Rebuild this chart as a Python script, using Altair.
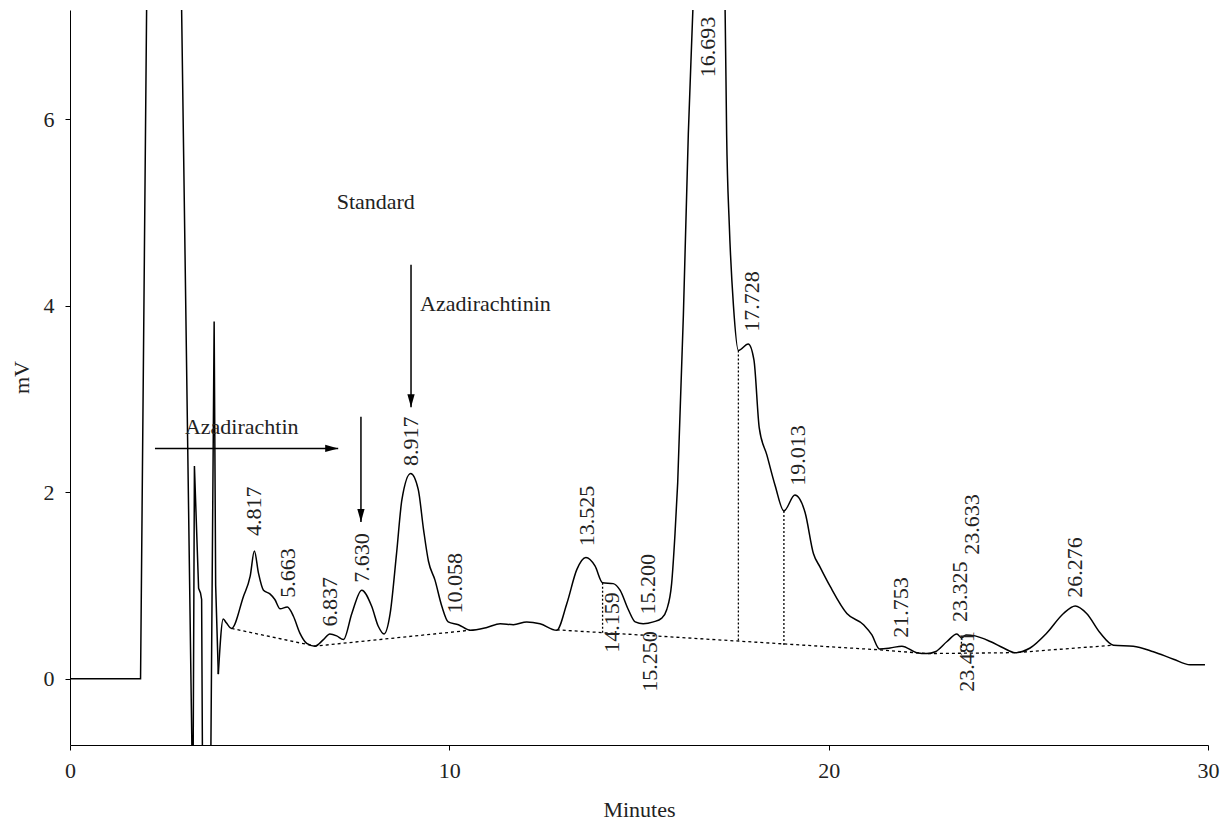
import altair as alt
import pandas as pd

FONT = "Liberation Serif"

# ---- chromatogram trace (minutes, mV) ----
# steep solvent-front section (drawn with straight segments)
sharp_t = [0, 1.86, 2.06, 2.88, 3.24, 3.28, 3.39, 3.44, 3.47, 3.50, 3.70, 3.80, 3.84, 3.91]
sharp_v = [0, 0, 9.0, 9.0, -1.5, 2.28, 0.97, 0.92, 0.85, -1.5, -1.5, 3.83, 1.0, 0.05]

# smooth section
smooth_t = [3.91, 4.04, 4.12, 4.26, 4.57, 4.75, 4.86, 4.97, 5.10, 5.27, 5.40, 5.54, 5.73, 5.89,
            6.06, 6.24, 6.46, 6.68, 6.85, 7.03, 7.21, 7.43, 7.69, 7.95, 8.13, 8.28, 8.44, 8.61,
            8.75, 8.98, 9.18, 9.32, 9.45, 9.62, 9.80, 9.97, 10.24, 10.55, 10.99, 11.34, 11.69,
            12.04, 12.39, 12.83, 13.10, 13.36, 13.60, 13.84, 14.04, 14.32, 14.50, 14.72, 14.90,
            15.11, 15.38, 15.60, 15.73, 15.86, 15.95, 16.02, 16.17, 16.30, 16.42, 16.55, 16.69,
            16.95, 17.15, 17.27, 17.31, 17.38, 17.49, 17.62, 17.88, 18.03, 18.17, 18.37, 18.59,
            18.82, 19.11, 19.38, 19.60, 19.77, 20.04, 20.48, 20.92, 21.14, 21.34, 21.62, 21.93,
            22.32, 22.59, 22.81, 23.12, 23.38, 23.50, 23.62, 23.86, 24.26, 24.61, 24.91, 25.31,
            25.75, 26.19, 26.50, 26.80, 27.16, 27.51, 28.03, 28.56, 29.09, 29.53, 29.92]
smooth_v = [0.05, 0.64, 0.60, 0.54, 0.88, 1.10, 1.37, 1.13, 0.95, 0.91, 0.85, 0.75, 0.77, 0.67,
            0.49, 0.38, 0.35, 0.42, 0.48, 0.46, 0.42, 0.70, 0.95, 0.78, 0.56, 0.48, 0.70, 1.35,
            1.92, 2.20, 2.03, 1.60, 1.26, 1.06, 0.78, 0.61, 0.58, 0.52, 0.55, 0.59, 0.58,
            0.61, 0.59, 0.52, 0.81, 1.17, 1.30, 1.21, 1.03, 1.02, 0.95, 0.74, 0.61,
            0.59, 0.61, 0.65, 0.74, 1.02, 1.56, 2.10, 3.90, 5.84, 7.17, 8.80, 9.60,
            9.40, 8.40, 7.17, 5.84, 4.87, 4.00, 3.52, 3.59, 3.42, 2.69, 2.40, 2.07,
            1.80, 1.97, 1.78, 1.34, 1.20, 0.99, 0.70, 0.58, 0.47, 0.32, 0.33, 0.35,
            0.28, 0.27, 0.29, 0.40, 0.48, 0.44, 0.47, 0.46, 0.40, 0.33, 0.28, 0.33,
            0.49, 0.70, 0.78, 0.70, 0.49, 0.36, 0.35, 0.29, 0.21, 0.15, 0.15]

# ---- integration baseline (dashed) ----
base_seg = ["A", "A", "A", "B", "B", "B", "B", "B"]
base_t = [4.26, 6.46, 10.55, 12.83, 21.34, 22.59, 24.91, 27.51]
base_v = [0.54, 0.35, 0.52, 0.525, 0.31, 0.27, 0.28, 0.36]

# ---- drop lines (dotted) ----
drop_t = [14.04, 17.62, 18.82, 23.50]
drop_top = [1.03, 3.52, 1.80, 0.44]
drop_bot = [0.49, 0.40, 0.36, 0.26]

# ---- retention-time labels ----
peak_labels = ["4.817", "5.663", "6.837", "7.630", "8.917", "10.058", "13.525", "14.159",
               "15.200", "15.250", "16.693", "17.728", "19.013", "21.753", "23.325",
               "23.633", "23.481", "26.276"]
label_t = [4.86, 5.76, 6.85, 7.69, 8.98, 10.15, 13.62, 14.28, 15.25, 15.29, 16.83, 17.97,
           19.20, 21.91, 23.45, 23.77, 23.64, 26.50]
label_v = [1.53, 0.87, 0.56, 1.03, 2.28, 0.70, 1.42, 0.28, 0.69, -0.14, 6.45, 3.72,
           2.07, 0.44, 0.61, 1.33, -0.14, 0.87]

# ---- annotations ----
note_text = ["Standard", "Azadirachtin", "Azadirachtinin"]
note_t = [7.03, 3.03, 9.23]
note_v = [5.04, 2.62, 3.94]

# arrows: horizontal one and two vertical ones
harrow_t = [2.24]
harrow_t2 = [7.07]
harrow_v = [2.47]
varrow_t = [7.67, 8.99]
varrow_v = [2.81, 4.44]
varrow_v2 = [1.68, 2.91]

# ---------------------------------------------------------------
sharp_df = pd.DataFrame({"t": sharp_t, "v": sharp_v})
smooth_df = pd.DataFrame({"t": smooth_t, "v": smooth_v})
base_df = pd.DataFrame({"seg": base_seg, "t": base_t, "v": base_v})
drop_df = pd.DataFrame({"t": drop_t, "v": drop_top, "v2": drop_bot})
lab_df = pd.DataFrame({"txt": peak_labels, "t": label_t, "v": label_v})
note_df = pd.DataFrame({"txt": note_text, "t": note_t, "v": note_v})
harrow_df = pd.DataFrame({"t": harrow_t, "t2": harrow_t2, "v": harrow_v})
varrow_df = pd.DataFrame({"t": varrow_t, "v": varrow_v, "v2": varrow_v2})
harrow_tip = pd.DataFrame({"t": harrow_t2, "v": harrow_v})
varrow_tip = pd.DataFrame({"t": varrow_t, "v": varrow_v2})

xscale = alt.Scale(domain=[0, 30], nice=False, zero=False)
yscale = alt.Scale(domain=[-0.71, 7.17], nice=False, zero=False)

xaxis = alt.Axis(values=[0, 10, 20, 30], format="d", title="Minutes", grid=False,
                 tickSize=5, labelPadding=10, labelFlush=False,
                 domainColor="black", tickColor="black", labelColor="#222",
                 labelFont=FONT, labelFontSize=22, titleFont=FONT, titleFontSize=22,
                 titleFontWeight="normal", titleColor="#222", titleY=71,
                 titleBaseline="alphabetic")
yaxis = alt.Axis(values=[0, 2, 4, 6], format="d", title="mV", grid=False,
                 tickSize=5, labelPadding=11,
                 domainColor="black", tickColor="black", labelColor="#222",
                 labelFont=FONT, labelFontSize=22, titleFont=FONT, titleFontSize=22,
                 titleFontWeight="normal", titleColor="#222", titleAngle=270,
                 titleX=-49, titleY=367, titleAlign="center", titleBaseline="middle")

X = alt.X("t:Q", scale=xscale, axis=xaxis)
Y = alt.Y("v:Q", scale=yscale, axis=yaxis)

sharp = alt.Chart(sharp_df).mark_line(color="black", strokeWidth=1.5, clip=True,
                                      interpolate="linear").encode(x=X, y=Y, order="t:Q")
smooth = alt.Chart(smooth_df).mark_line(color="black", strokeWidth=1.5, clip=True,
                                        interpolate="monotone").encode(x=X, y=Y, order="t:Q")

baseline = alt.Chart(base_df).mark_line(color="black", strokeWidth=1.3,
                                        strokeDash=[3, 3]).encode(x=X, y=Y, detail="seg:N")

drops = alt.Chart(drop_df).mark_rule(color="black", strokeWidth=1.3,
                                     strokeDash=[2, 2]).encode(x=X, y=Y, y2="v2:Q")

labels = alt.Chart(lab_df).mark_text(angle=270, align="left", baseline="middle",
                                     font=FONT, fontSize=22, color="#222").encode(
    x=X, y=Y, text="txt:N")

notes = alt.Chart(note_df).mark_text(align="left", baseline="alphabetic",
                                     font=FONT, fontSize=22, color="#222").encode(
    x=X, y=Y, text="txt:N")

hline = alt.Chart(harrow_df).mark_rule(color="black", strokeWidth=1.5).encode(
    x=X, x2="t2:Q", y=Y)
vline = alt.Chart(varrow_df).mark_rule(color="black", strokeWidth=1.5).encode(
    x=X, y=Y, y2="v2:Q")

right_head = "M0,0 L-1,-0.28 L-1,0.28 Z"
down_head = "M0,0 L-0.28,-1 L0.28,-1 Z"
hhead = alt.Chart(harrow_tip).mark_point(shape=right_head, size=676, filled=True,
                                         color="black", opacity=1, strokeWidth=0).encode(x=X, y=Y)
vhead = alt.Chart(varrow_tip).mark_point(shape=down_head, size=676, filled=True,
                                         color="black", opacity=1, strokeWidth=0).encode(x=X, y=Y)

chart = alt.layer(baseline, drops, sharp, smooth, hline, vline, hhead, vhead, labels, notes).properties(
    width=1138, height=735,
    autosize=alt.AutoSizeParams(type="none"),
    padding={"left": 62, "top": 2, "right": 14, "bottom": 80},
    background="white",
).configure_view(stroke=None)

chart.save("out.html", embed_options={"renderer": "svg", "actions": False})
